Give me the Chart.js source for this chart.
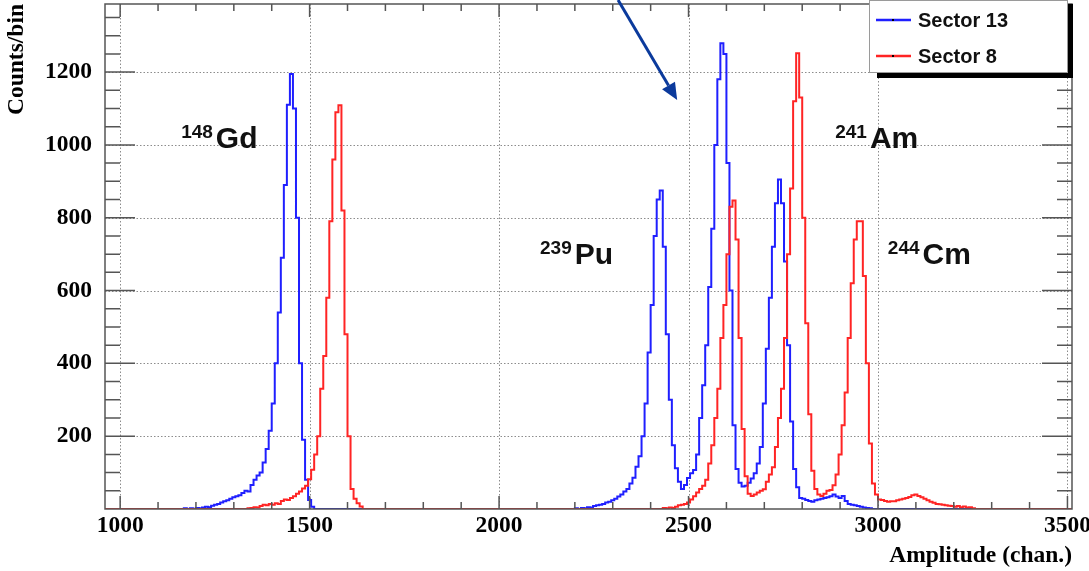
<!DOCTYPE html>
<html>
<head>
<meta charset="utf-8">
<script src="https://cdn.jsdelivr.net/npm/chart.js@4.4.1/dist/chart.umd.min.js"></script>
<style>
  html, body { margin: 0; padding: 0; background: #fff; }
  #wrap { width: 1089px; height: 571px; position: relative; }
</style>
</head>
<body>
<div id="wrap"><canvas id="spectrum"></canvas></div>
<script>
// histogram binning, in ADC channels
const binWidth = 8;
const xMin = 960, xMax = 3512;
const yMin = 0, yMax = 1387;

// Sector 13 (blue) counts per bin
const sector13GdStart = 1160;
const sector13Gd = [
  0, 2, 0, 2, 1, 3, 2, 4, 6, 5, 9, 12, 14, 18, 21, 24, 28, 32, 35, 38,
  44, 50, 48, 66, 80, 92, 100, 128, 165, 215, 290, 400, 540, 690, 890, 1110,
  1195, 1100, 800, 400, 190, 80, 25, 6, 0
];
const sector13ActStart = 2200;
const sector13Act = [
  2, 0, 3, 2, 5, 4, 8, 10, 12, 14, 18, 20, 24, 28, 34, 40, 48, 55, 70, 86,
  116, 145, 200, 290, 430, 560, 750, 850, 875, 720, 480, 300, 175, 112, 75, 55,
  66, 85, 98, 107, 150, 250, 340, 450, 610, 770, 1000, 1180, 1279, 1250, 950, 600,
  230, 110, 72, 62, 64, 72, 84, 98, 125, 170, 290, 440, 580, 720, 840, 905,
  840, 680, 450, 240, 110, 60, 30, 28, 25, 22, 20, 24, 26, 28, 30, 32,
  35, 40, 34, 30, 36, 22, 14, 12, 10, 8, 6, 4, 3, 2, 0
];

// Sector 8 (red) counts per bin
const sector8GdStart = 1336;
const sector8Gd = [
  2, 3, 5, 4, 8, 12, 10, 14, 12, 16, 14, 22, 26, 25, 30, 35, 42, 48, 56, 64,
  82, 108, 150, 200, 330, 420, 580, 790, 960, 1090, 1109, 820, 480, 200, 55, 28,
  16, 7, 0
];
const sector8ActStart = 2424;
const sector8Act = [
  0, 3, 2, 4, 3, 6, 10, 12, 14, 18, 26, 35, 45, 55, 64, 80, 125, 175, 250, 330,
  470, 560, 700, 830, 847, 740, 470, 220, 90, 42, 36, 40, 45, 50, 54, 75,
  95, 115, 170, 250, 330, 470, 700, 880, 1120, 1252, 1130, 800, 510, 260, 105, 55,
  40, 36, 42, 50, 52, 65, 95, 150, 230, 320, 470, 620, 740, 790, 790, 640,
  400, 180, 70, 40, 26, 25, 22, 20, 21, 21, 24, 26, 28, 30, 33, 38,
  40, 36, 32, 28, 24, 20, 17, 14, 13, 12, 10, 9, 8, 6, 8, 5,
  7, 4, 5, 2, 0
];

const xMajorTicks = [1000, 1500, 2000, 2500, 3000, 3500];
const yMajorTicks = [200, 400, 600, 800, 1000, 1200];
const xMinorStep = 100;
const yMinorStep = 50;

const seriesNames = ['Sector 13', 'Sector 8'];
const seriesColors = ['#1f1fff', '#ff2424'];

// isotope tags, anchored in data coordinates (left edge, baseline)
const isotopeLabels = [
  { mass: '148', name: 'Gd', channel: 1161, counts: 991 },
  { mass: '239', name: 'Pu', channel: 2108, counts: 673 },
  { mass: '241', name: 'Am', channel: 2887, counts: 991 },
  { mass: '244', name: 'Cm', channel: 3026, counts: 673 }
];
const arrowFrom = { channel: 2314, counts: 1398 };
const arrowTo = { channel: 2470, counts: 1123 };

function buildHistogram(segments) {
  const pts = [];
  for (let ch = xMin; ch <= xMax; ch += binWidth) {
    let v = 0;
    segments.forEach(([start, counts]) => {
      const i = (ch - start) / binWidth;
      if (i >= 0 && i < counts.length) v = counts[i];
    });
    pts.push({ x: ch, y: v });
  }
  return pts;
}

const serif = '"Liberation Serif", "Times New Roman", serif';
const sans = '"Liberation Sans", Arial, Helvetica, sans-serif';

// ROOT-like frame: dotted grid, inside ticks on all four sides, legend, tags
const rootFrame = {
  id: 'rootFrame',
  beforeDatasetsDraw(chart) {
    const { ctx, chartArea: a, scales: { x, y } } = chart;
    ctx.save();
    ctx.strokeStyle = '#8c8c8c';
    ctx.lineWidth = 1;
    ctx.setLineDash([1.5, 2]);
    ctx.beginPath();
    xMajorTicks.forEach(v => {
      const px = Math.round(x.getPixelForValue(v)) + 0.5;
      ctx.moveTo(px, a.top); ctx.lineTo(px, a.bottom);
    });
    yMajorTicks.forEach(v => {
      const py = Math.round(y.getPixelForValue(v)) + 0.5;
      ctx.moveTo(a.left, py); ctx.lineTo(a.right, py);
    });
    ctx.stroke();
    ctx.restore();
  },
  afterDatasetsDraw(chart) {
    const { ctx, chartArea: a, scales: { x, y } } = chart;
    ctx.save();
    ctx.strokeStyle = '#555';
    ctx.lineWidth = 1.5;
    ctx.strokeRect(a.left, a.top, a.right - a.left, a.bottom - a.top);
    ctx.beginPath();
    for (let v = 1000; v <= 3500; v += xMinorStep) {
      const len = v % 500 === 0 ? 13 : 7;
      const px = x.getPixelForValue(v);
      ctx.moveTo(px, a.bottom); ctx.lineTo(px, a.bottom - len);
      ctx.moveTo(px, a.top); ctx.lineTo(px, a.top + len);
    }
    for (let v = yMinorStep; v <= yMax; v += yMinorStep) {
      const len = v % 200 === 0 ? 30 : 15;
      const py = y.getPixelForValue(v);
      ctx.moveTo(a.left, py); ctx.lineTo(a.left + len, py);
      ctx.moveTo(a.right, py); ctx.lineTo(a.right - len, py);
    }
    ctx.stroke();

    // isotope tags
    ctx.fillStyle = '#111';
    ctx.textBaseline = 'alphabetic';
    ctx.textAlign = 'left';
    isotopeLabels.forEach(t => {
      const px = x.getPixelForValue(t.channel);
      const py = y.getPixelForValue(t.counts);
      ctx.font = 'bold 19px ' + sans;
      ctx.fillText(t.mass, px, py - 10);
      const w = ctx.measureText(t.mass).width;
      ctx.font = 'bold 30px ' + sans;
      ctx.fillText(t.name, px + w + 3, py);
    });

    // arrow
    const x0 = x.getPixelForValue(arrowFrom.channel), y0 = y.getPixelForValue(arrowFrom.counts);
    const x1 = x.getPixelForValue(arrowTo.channel), y1 = y.getPixelForValue(arrowTo.counts);
    const ang = Math.atan2(y1 - y0, x1 - x0);
    const head = 17, half = 7.5;
    ctx.strokeStyle = '#0b3a9c';
    ctx.fillStyle = '#0b3a9c';
    ctx.lineWidth = 3;
    ctx.beginPath();
    ctx.moveTo(x0, y0);
    ctx.lineTo(x1 - head * Math.cos(ang), y1 - head * Math.sin(ang));
    ctx.stroke();
    ctx.beginPath();
    ctx.moveTo(x1, y1);
    ctx.lineTo(x1 - head * Math.cos(ang) - half * Math.sin(ang), y1 - head * Math.sin(ang) + half * Math.cos(ang));
    ctx.lineTo(x1 - head * Math.cos(ang) + half * Math.sin(ang), y1 - head * Math.sin(ang) - half * Math.cos(ang));
    ctx.closePath();
    ctx.fill();
    ctx.restore();
  },
  afterDraw(chart) {
    const { ctx, chartArea: a } = chart;
    const right = a.right - 4, left = right - 199, top = a.top - 4, bottom = top + 73;
    ctx.save();
    ctx.fillStyle = '#000';
    ctx.fillRect(left + 8, bottom, right - left - 3, 5);
    ctx.fillRect(right, top + 4, 5, bottom - top + 1);
    ctx.fillStyle = '#fff';
    ctx.fillRect(left, top, right - left, bottom - top);
    ctx.strokeStyle = '#9a9a9a';
    ctx.lineWidth = 1;
    ctx.strokeRect(left + 0.5, top + 0.5, right - left - 1, bottom - top - 1);
    seriesNames.forEach((name, i) => {
      const ly = top + 20 + i * 36;
      ctx.strokeStyle = seriesColors[i];
      ctx.lineWidth = 2.5;
      ctx.beginPath();
      ctx.moveTo(left + 7, ly); ctx.lineTo(left + 42, ly);
      ctx.stroke();
      ctx.fillStyle = '#000';
      ctx.fillRect(left + 23, ly - 1, 2, 2);
      ctx.font = 'bold 20px ' + sans;
      ctx.textBaseline = 'alphabetic';
      ctx.fillStyle = '#111';
      ctx.fillText(name, left + 49, ly + 7);
    });
    ctx.restore();
  }
};

const histogram = [
  buildHistogram([[sector13GdStart, sector13Gd], [sector13ActStart, sector13Act]]),
  buildHistogram([[sector8GdStart, sector8Gd], [sector8ActStart, sector8Act]])
];

new Chart(document.getElementById('spectrum'), {
  type: 'line',
  data: {
    datasets: seriesNames.map((name, i) => ({
      label: name,
      data: histogram[i],
      borderColor: seriesColors[i],
      borderWidth: 2,
      pointRadius: 0,
      stepped: 'before',
      fill: false,
      order: i === 0 ? 1 : 0
    }))
  },
  options: {
    responsive: true,
    maintainAspectRatio: false,
    animation: false,
    layout: { padding: { top: 4, right: 17, left: 0, bottom: 0 } },
    plugins: {
      legend: { display: false },
      tooltip: { enabled: false }
    },
    scales: {
      x: {
        type: 'linear',
        min: xMin,
        max: xMax,
        grid: { display: false, drawTicks: false },
        border: { display: false },
        afterBuildTicks: s => { s.ticks = xMajorTicks.map(v => ({ value: v })); },
        afterFit: s => { s.height = 62; s.paddingLeft = 0; s.paddingRight = 0; },
        ticks: {
          padding: 3,
          maxRotation: 0,
          autoSkip: false,
          color: '#000',
          font: { family: serif, size: 23.5, weight: 'bold' },
          callback: v => String(v)
        },
        title: {
          display: true,
          text: 'Amplitude (chan.)',
          align: 'end',
          color: '#000',
          padding: { top: 0, bottom: 1 },
          font: { family: serif, size: 23.5, weight: 'bold' }
        }
      },
      y: {
        min: yMin,
        max: yMax,
        grid: { display: false, drawTicks: false },
        border: { display: false },
        afterBuildTicks: s => { s.ticks = yMajorTicks.map(v => ({ value: v })); },
        afterFit: s => { s.width = 105; s.paddingTop = 0; s.paddingBottom = 0; },
        ticks: {
          padding: 13,
          color: '#000',
          font: { family: serif, size: 23.5, weight: 'bold' },
          callback: v => String(v)
        },
        title: {
          display: true,
          text: 'Counts/bin',
          align: 'end',
          color: '#000',
          padding: { top: 3, bottom: 0 },
          font: { family: serif, size: 23.5, weight: 'bold' }
        }
      }
    }
  },
  plugins: [rootFrame]
});
</script>
</body>
</html>
